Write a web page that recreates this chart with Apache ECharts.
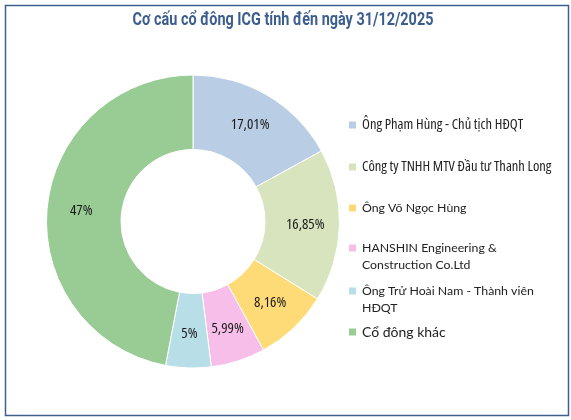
<!DOCTYPE html>
<html><head><meta charset="utf-8">
<script src="https://cdn.jsdelivr.net/npm/echarts@6/dist/echarts.min.js"></script>
<style>html,body{margin:0;padding:0;background:#fff}#c{width:571px;height:420px}</style>
</head><body><div id="c"></div>
<script>
const titleText = 'Cơ cấu cổ đông ICG tính đến ngày 31/12/2025';
const categories = [
  'Ông Phạm Hùng - Chủ tịch HĐQT',
  'Công ty TNHH MTV Đầu tư Thanh Long',
  'Ông Võ Ngọc Hùng',
  'HANSHIN Engineering & Construction Co.Ltd',
  'Ông Trử Hoài Nam - Thành viên HĐQT',
  'Cổ đông khác'
];
const legendLabels = [
  'Ông Phạm Hùng - Chủ tịch HĐQT',
  'Công ty TNHH MTV Đầu tư Thanh Long',
  'Ông Võ Ngọc Hùng',
  '\nHANSHIN Engineering &\nConstruction Co.Ltd',
  '\nÔng Trử Hoài Nam - Thành viên\nHĐQT',
  'Cổ đông khác'
];
const values = [17.01, 16.85, 8.16, 5.99, 5, 47];
const colors = ['#B9CDE5', '#D8E4BE', '#FFDB78', '#F6BEE8', '#B8DEE8', '#98CC94'];

const chart = echarts.init(document.getElementById('c'), null, {renderer: 'canvas'});
const cond = '"Open Sans",sans-serif';
const legendTops = [116.5, 158.5, 199.5, 222.5, 265.5, 323.5];
const legendCond = [true, true, false, false, false, false];
const legendSizes = [14.5, 14.5, 12.3, 12.3, 12.3, 14];
const legends = categories.map((name, i) => ({
  data: [name],
  left: 347,
  top: legendTops[i],
  padding: 0,
  itemWidth: 9,
  itemHeight: 9,
  itemGap: 6,
  icon: 'rect',
  selectedMode: false,
  formatter: () => legendLabels[i],
  textStyle: {
    fontFamily: legendCond[i] ? cond : 'Lato',
    fontWeight: legendCond[i] ? 'normal condensed' : 'normal',
    fontSize: legendSizes[i],
    color: '#222',
    lineHeight: 17
  }
}));

chart.setOption({
  animation: false,
  graphic: [{
    type: 'rect',
    left: 3, top: 3,
    shape: {width: 563, height: 410},
    style: {fill: 'none', stroke: '#3D5F8F', lineWidth: 1.5},
    silent: true
  }, {
    type: 'text',
    x: 283, y: 20,
    scaleX: 0.76,
    silent: true,
    style: {
      text: titleText,
      align: 'center',
      verticalAlign: 'middle',
      font: 'bold 19px Roboto, sans-serif',
      fill: '#3C5E8E'
    }
  }],
  legend: legends,
  series: [{
    type: 'pie',
    center: [193, 221.5],
    radius: [72, 146.5],
    startAngle: 90,
    clockwise: true,
    avoidLabelOverlap: false,
    itemStyle: {borderColor: '#fff', borderWidth: 1},
    label: {
      position: 'inside',
      fontFamily: cond,
      fontWeight: 'normal condensed',
      fontSize: 15,
      color: '#1a1a1a',
      formatter: p => String(p.value).replace('.', ',') + '%'
    },
    labelLine: {show: false},
    data: categories.map((n, i) => ({name: n, value: values[i], itemStyle: {color: colors[i]}}))
  }]
});
</script></body></html>
